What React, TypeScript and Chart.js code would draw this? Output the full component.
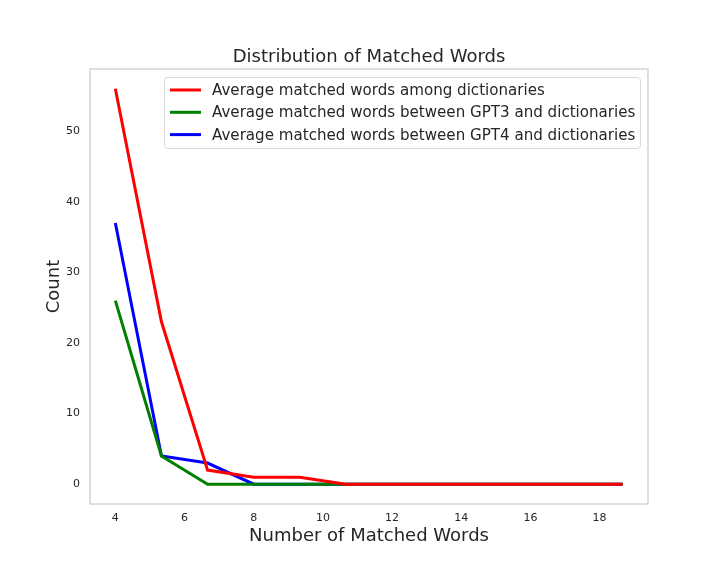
import React, { useEffect, useRef } from "react";
import { Chart, registerables } from "chart.js";

Chart.register(...registerables);

const xValues = [4, 5.333, 6.667, 8, 9.333, 10.667, 12, 13.333, 14.667, 16, 17.333, 18.667];
const dictValues = [56, 23, 2, 1, 1, 0, 0, 0, 0, 0, 0, 0];
const gpt3Values = [26, 4, 0, 0, 0, 0, 0, 0, 0, 0, 0, 0];
const gpt4Values = [37, 4, 3, 0, 0, 0, 0, 0, 0, 0, 0, 0];
const xTicks = [4, 6, 8, 10, 12, 14, 16, 18];
const yTicks = [0, 10, 20, 30, 40, 50];
const seriesLabels = [
  "Average matched words among dictionaries",
  "Average matched words between GPT3 and dictionaries",
  "Average matched words between GPT4 and dictionaries",
];
const seriesColors = ["#ff0000", "#008000", "#0000ff"];
const titleText = "Distribution of Matched Words";
const xLabel = "Number of Matched Words";
const yLabel = "Count";

const FONT = "'DejaVu Sans', sans-serif";
const TEXT = "#262626";

const textPlugin = {
  id: "textPlugin",
  afterDraw(chart: any) {
    const { ctx, chartArea } = chart;
    const { left, right, top, bottom } = chartArea;
    ctx.save();
    ctx.strokeStyle = "#cccccc";
    ctx.lineWidth = 1.25;
    ctx.strokeRect(left, top, right - left, bottom - top);
    ctx.fillStyle = TEXT;
    ctx.textAlign = "center";
    ctx.textBaseline = "middle";
    ctx.font = `18px ${FONT}`;
    ctx.fillText(titleText, (left + right) / 2, 57);
    ctx.fillText(xLabel, (left + right) / 2, 536);
    ctx.save();
    ctx.translate(54, (top + bottom) / 2);
    ctx.rotate(-Math.PI / 2);
    ctx.fillText(yLabel, 0, 0);
    ctx.restore();
    const bx = 164.5, by = 77.5, bw = 476, bh = 71, r = 3;
    ctx.beginPath();
    ctx.moveTo(bx + r, by);
    ctx.lineTo(bx + bw - r, by);
    ctx.quadraticCurveTo(bx + bw, by, bx + bw, by + r);
    ctx.lineTo(bx + bw, by + bh - r);
    ctx.quadraticCurveTo(bx + bw, by + bh, bx + bw - r, by + bh);
    ctx.lineTo(bx + r, by + bh);
    ctx.quadraticCurveTo(bx, by + bh, bx, by + bh - r);
    ctx.lineTo(bx, by + r);
    ctx.quadraticCurveTo(bx, by, bx + r, by);
    ctx.closePath();
    ctx.fillStyle = "rgba(255,255,255,0.8)";
    ctx.fill();
    ctx.strokeStyle = "#d9d9d9";
    ctx.lineWidth = 1;
    ctx.stroke();
    ctx.font = `15.1px ${FONT}`;
    ctx.textAlign = "left";
    seriesLabels.forEach((lab, i) => {
      const y = 90 + i * 22.3;
      ctx.strokeStyle = seriesColors[i];
      ctx.lineWidth = 3;
      ctx.beginPath();
      ctx.moveTo(170, y);
      ctx.lineTo(201, y);
      ctx.stroke();
      ctx.fillStyle = TEXT;
      ctx.fillText(lab, 212, y + 1);
    });
    ctx.restore();
  },
};

export default function App() {
  const ref = useRef<HTMLCanvasElement>(null);
  useEffect(() => {
    document.body.style.margin = "0";
    const mk = (vals: number[], i: number) => ({
      label: seriesLabels[i],
      data: xValues.map((x, j) => ({ x, y: vals[j] })),
      borderColor: seriesColors[i],
      backgroundColor: seriesColors[i],
      borderWidth: 3,
      pointRadius: 0,
      tension: 0,
      fill: false,
    });
    const chart = new Chart(ref.current!, {
      type: "line",
      data: {
        datasets: [mk(dictValues, 0), mk(gpt3Values, 1), mk(gpt4Values, 2)],
      },
      options: {
        animation: false,
        responsive: false,
        devicePixelRatio: 1,
        layout: { padding: { top: 69, right: 72, left: 0, bottom: 0 } },
        plugins: { legend: { display: false }, tooltip: { enabled: false }, title: { display: false } },
        scales: {
          x: {
            type: "linear",
            min: 3.267,
            max: 19.4,
            grid: { display: false, drawTicks: false },
            border: { display: false },
            afterBuildTicks: (s: any) => { s.ticks = xTicks.map((v) => ({ value: v })); },
            ticks: {
              padding: 8,
              color: TEXT,
              font: { family: FONT, size: 11 },
              callback: (v: any) => String(v),
            },
            afterFit: (s: any) => { s.height = 72; },
          },
          y: {
            type: "linear",
            min: -2.8,
            max: 58.8,
            grid: { display: false, drawTicks: false },
            border: { display: false },
            afterBuildTicks: (s: any) => { s.ticks = yTicks.map((v) => ({ value: v })); },
            ticks: {
              padding: 10,
              color: TEXT,
              font: { family: FONT, size: 11 },
              callback: (v: any) => String(v),
            },
            afterFit: (s: any) => { s.width = 90; },
          },
        },
      },
      plugins: [textPlugin],
    } as any);
    return () => chart.destroy();
  }, []);
  return (
    <div style={{ width: 720, height: 576, background: "#fff" }}>
      <canvas ref={ref} width={720} height={576} style={{ display: "block" }} />
    </div>
  );
}
